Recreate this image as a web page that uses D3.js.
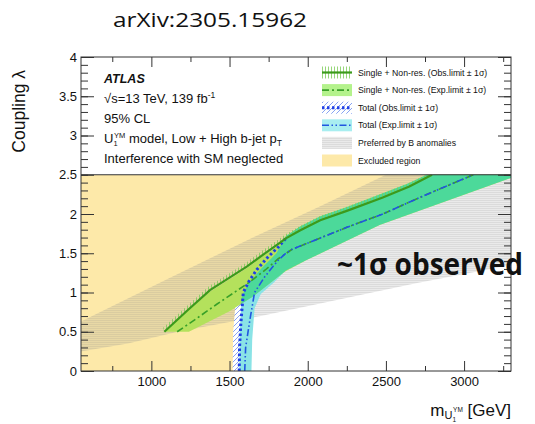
<!DOCTYPE html>
<html>
<head>
<meta charset="utf-8">
<title>U1 leptoquark coupling limits</title>
<script src="https://cdn.jsdelivr.net/npm/d3@7"></script>
<style>
  body { margin: 0; background: #fff; }
  svg text { font-family: "Liberation Sans", Arial, sans-serif; fill: #111; }
</style>
</head>
<body>
<script>
// values: [mass GeV, coupling lambda]
var massTicks = [1000, 1500, 2000, 2500, 3000];
var massMinor = [750, 1250, 1750, 2250, 2750, 3250];
var couplingTicks = [0, 0.5, 1, 1.5, 2, 2.5, 3, 3.5, 4];

var singleObs = [[1083,0.5],[1230,0.77],[1375,1.03],[1500,1.19],[1610,1.33],[1720,1.49],[1812,1.62],[1860,1.69],
  [1950,1.79],[2080,1.92],[2250,2.04],[2480,2.21],[2650,2.35],[2795,2.5]];
var singleObsHi = [[1075,0.55],[1222,0.82],[1368,1.08],[1495,1.24],[1605,1.38],[1715,1.54],[1808,1.67],[1855,1.74],
  [1945,1.84],[2075,1.97],[2245,2.09],[2475,2.26],[2640,2.39],[2760,2.5]];
var singleExp = [[1165,0.5],[1290,0.67],[1418,0.85],[1530,1.0],[1640,1.15],[1730,1.29],[1812,1.43],[1900,1.55],
  [2050,1.67],[2250,1.83],[2480,2.0],[2750,2.24],[3060,2.5]];
var singleExpHi = [[1083,0.5],[1230,0.76],[1375,1.01],[1500,1.17],[1610,1.31],[1720,1.47],[1812,1.6],[1860,1.72],
  [1950,1.84],[2080,1.97],[2250,2.09],[2475,2.26],[2640,2.39],[2760,2.5],[3300,2.6]];
var singleExpLo = [[1083,0.5],[1240,0.5],[1500,0.76],[1650,0.95],[1850,1.26],[1990,1.41],[2460,1.86],[3300,2.46]];

var totalObs = [[1562,0],[1564,0.3],[1572,0.6],[1588,1.0],[1620,1.13],[1674,1.29],[1740,1.44],[1812,1.58],[1860,1.69]];
var totalObsLo = [[1520,0],[1523,0.5],[1540,0.9],[1575,1.04],[1620,1.13]];
var totalExp = [[1597,0],[1603,0.3],[1630,0.65],[1660,1.0],[1725,1.2],[1810,1.41],[1860,1.5],[1900,1.55],
  [2050,1.67],[2250,1.83],[2480,2.0],[2750,2.24],[3060,2.5]];
var totalExpHi = [[1562,0],[1565,0.5],[1578,0.95],[1615,1.1],[1700,1.3],[1800,1.5],[1860,1.72],
  [1950,1.84],[2080,1.97],[2250,2.09],[2475,2.26],[2640,2.39],[2760,2.5],[3300,2.6]];
var totalExpLo = [[1640,0],[1645,0.4],[1660,0.8],[1700,0.98],[1780,1.12],[1860,1.28],[1990,1.41],[2460,1.86],[3300,2.46]];

var bAnomHi = [[550,0.63],[1100,1.17],[1680,1.73],[2080,2.1],[2500,2.5],[3300,3.2]];
var bAnomLo = [[550,0.25],[850,0.35],[1170,0.5],[1700,0.7],[2080,0.86],[2700,1.12],[3300,1.35]];

var legendLabels = ["Single + Non-res. (Obs.limit \u00b1 1\u03c3)", "Single + Non-res. (Exp.limit \u00b1 1\u03c3)",
  "Total (Obs.limit \u00b1 1\u03c3)", "Total (Exp.limit \u00b1 1\u03c3)", "Preferred by B anomalies", "Excluded region"];

var W = 535, H = 424;
var pLeft = 81, pRight = 511, pTop = 57, pBottom = 371;

var x = d3.scaleLinear().domain([550, 3300]).range([pLeft, pRight]);
var y = d3.scaleLinear().domain([0, 4]).range([pBottom, pTop]);

var svg = d3.select("body").append("svg").attr("width", W).attr("height", H);
svg.append("rect").attr("width", W).attr("height", H).attr("fill", "#fff");

var defs = svg.append("defs");
defs.append("clipPath").attr("id", "plotclip").append("rect")
  .attr("x", pLeft).attr("y", y(2.5)).attr("width", pRight - pLeft).attr("height", pBottom - y(2.5));

// hatch patterns
var pv = defs.append("pattern").attr("id", "vhatch").attr("patternUnits", "userSpaceOnUse")
  .attr("width", 3).attr("height", 6);
pv.append("line").attr("x1", 1.5).attr("x2", 1.5).attr("y1", 0).attr("y2", 6)
  .attr("stroke", "#7ccc58").attr("stroke-width", 0.8);
var pd = defs.append("pattern").attr("id", "dhatch").attr("patternUnits", "userSpaceOnUse")
  .attr("width", 5).attr("height", 5);
pd.append("rect").attr("width", 5).attr("height", 5).attr("fill", "#fff");
pd.append("path").attr("d", "M0,5 L5,0 M-1,1 L1,-1 M4,6 L6,4")
  .attr("stroke", "#6a8cf0").attr("stroke-width", 0.8);
var pg = defs.append("pattern").attr("id", "ghatch").attr("patternUnits", "userSpaceOnUse")
  .attr("width", 4).attr("height", 2);
pg.append("rect").attr("width", 4).attr("height", 2).attr("fill", "rgba(150,150,150,0.2)");
pg.append("line").attr("x1", 0).attr("x2", 4).attr("y1", 0.5).attr("y2", 0.5)
  .attr("stroke", "rgba(130,130,130,0.15)").attr("stroke-width", 1);

var line = d3.line().x(function(d) { return x(d[0]); }).y(function(d) { return y(d[1]); });
function band(hi, lo) { return line(hi.concat(lo.slice().reverse())) + "Z"; }

var plot = svg.append("g").attr("clip-path", "url(#plotclip)");

// excluded region: left of the total observed limit, then the single observed one
var excl = [[550,0]].concat(totalObs, singleObs.filter(function(d) { return d[1] > 1.69; }), [[550,2.5]]);
plot.append("path").attr("d", line(excl) + "Z").attr("fill", "#fde9a9");

// B anomalies band
plot.append("path").attr("d", band(bAnomHi, bAnomLo)).attr("fill", "url(#ghatch)");

// total observed +-1 sigma (hatched)
plot.append("path").attr("d", band(totalObsLo, totalObs.slice(0, 5))).attr("fill", "url(#dhatch)");

// expected bands
defs.append("clipPath").attr("id", "totclip").append("path").attr("d", band(totalExpHi, totalExpLo));
plot.append("path").attr("d", band(totalExpHi, totalExpLo)).attr("fill", "#8ae3e6");
plot.append("path").attr("d", band(singleExpHi, singleExpLo)).attr("fill", "#b4e15c");
plot.append("g").attr("clip-path", "url(#totclip)")
  .append("path").attr("d", band(singleExpHi, singleExpLo)).attr("fill", "#4cd99a");

// single observed +-1 sigma (vertical hatch)
plot.append("path").attr("d", band(singleObsHi, singleObs)).attr("fill", "url(#vhatch)");

// limit lines
plot.append("path").attr("d", line(singleExp)).attr("fill", "none")
  .attr("stroke", "#38a028").attr("stroke-width", 1.6).attr("stroke-dasharray", "7,3,2,3");
plot.append("path").attr("d", line(totalExp)).attr("fill", "none")
  .attr("stroke", "#2156e0").attr("stroke-width", 1.6).attr("stroke-dasharray", "7,2.5,1.5,2.5,1.5,2.5");
plot.append("path").attr("d", line(totalObs)).attr("fill", "none")
  .attr("stroke", "#1f3fe6").attr("stroke-width", 3).attr("stroke-dasharray", "2.5,2.5");
plot.append("path").attr("d", line(singleObs)).attr("fill", "none")
  .attr("stroke", "#3c9a1c").attr("stroke-width", 2.2);

// axes
function styleAxis(g) {
  g.select(".domain").remove();
  g.selectAll("line").attr("stroke", "#333");
  g.selectAll("text").style("font-size", "13px").attr("fill", "#111");
}
var minorMass = massMinor.filter(function(d) { return d < 3300; });
svg.append("g").attr("transform", "translate(0," + pBottom + ")")
  .call(d3.axisBottom(x).tickValues(massTicks).tickSize(-10).tickPadding(6).tickFormat(d3.format("d")))
  .call(styleAxis);
svg.append("g").attr("transform", "translate(0," + pBottom + ")")
  .call(d3.axisBottom(x).tickValues(minorMass).tickSize(-5).tickFormat(""))
  .call(styleAxis);
svg.append("g").attr("transform", "translate(0," + pTop + ")")
  .call(d3.axisTop(x).tickValues(massTicks).tickSize(-10).tickFormat(""))
  .call(styleAxis);
svg.append("g").attr("transform", "translate(0," + pTop + ")")
  .call(d3.axisTop(x).tickValues(minorMass).tickSize(-5).tickFormat(""))
  .call(styleAxis);

var yMinor = d3.range(0, 4.001, 0.1);
svg.append("g").attr("transform", "translate(" + pLeft + ",0)")
  .call(d3.axisLeft(y).tickValues(couplingTicks).tickSize(-13).tickPadding(4).tickFormat(function(d) { return d; }))
  .call(styleAxis);
svg.append("g").attr("transform", "translate(" + pLeft + ",0)")
  .call(d3.axisLeft(y).tickValues(yMinor).tickSize(-7).tickFormat(""))
  .call(styleAxis);
svg.append("g").attr("transform", "translate(" + pRight + ",0)")
  .call(d3.axisRight(y).tickValues(couplingTicks).tickSize(-13).tickFormat(""))
  .call(styleAxis);
svg.append("g").attr("transform", "translate(" + pRight + ",0)")
  .call(d3.axisRight(y).tickValues(yMinor).tickSize(-7).tickFormat(""))
  .call(styleAxis);

// frame and the 2.5 line
svg.append("rect").attr("x", pLeft).attr("y", pTop).attr("width", pRight - pLeft).attr("height", pBottom - pTop)
  .attr("fill", "none").attr("stroke", "#333").attr("stroke-width", 1);
svg.append("line").attr("x1", pLeft).attr("x2", pRight).attr("y1", y(2.5)).attr("y2", y(2.5))
  .attr("stroke", "#333").attr("stroke-width", 1);

// axis titles
svg.append("text").attr("transform", "translate(25,70) rotate(-90)")
  .attr("text-anchor", "end").style("font-size", "17.5px").text("Coupling \u03bb");

var xt = svg.append("text").attr("x", pRight).attr("y", 416).attr("text-anchor", "end").style("font-size", "17px");
xt.append("tspan").text("m");
xt.append("tspan").attr("dy", 3).style("font-size", "11px").text("U");
xt.append("tspan").attr("dy", 2.5).style("font-size", "6.5px").text("1");
xt.append("tspan").attr("dy", -9.5).attr("dx", -3).style("font-size", "6.5px").text("YM");
xt.append("tspan").attr("dy", 4).text(" [GeV]");

// ATLAS label block
var tx = 104;
svg.append("text").attr("x", tx).attr("y", 83).style("font-size", "12.5px")
  .style("font-weight", "bold").style("font-style", "italic").text("ATLAS");
var t1 = svg.append("text").attr("x", tx).attr("y", 103).style("font-size", "13px");
t1.append("tspan").text("\u221as=13 TeV, 139 fb");
t1.append("tspan").attr("dy", -5).style("font-size", "8.5px").text("-1");
svg.append("text").attr("x", tx).attr("y", 123).style("font-size", "13px").text("95% CL");
var t3 = svg.append("text").attr("x", tx).attr("y", 143).style("font-size", "13px");
t3.append("tspan").text("U");
t3.append("tspan").attr("dy", 3).style("font-size", "7.5px").text("1");
t3.append("tspan").attr("dy", -8).attr("dx", -3.5).style("font-size", "7.5px").text("YM");
t3.append("tspan").attr("dy", 5).text(" model, Low + High b-jet p");
t3.append("tspan").attr("dy", 3).style("font-size", "8.5px").text("T");
svg.append("text").attr("x", tx).attr("y", 163).style("font-size", "13px").text("Interference with SM neglected");

// legend
var ly0 = 72.5, lstep = 17.6, lx = 322, lw = 30, lh = 12;
var leg = svg.append("g");
legendLabels.forEach(function(lab, i) {
  var cy = ly0 + i * lstep;
  var g = leg.append("g");
  if (i === 0) {
    g.append("rect").attr("x", lx).attr("y", cy - lh / 2).attr("width", lw).attr("height", lh).attr("fill", "url(#vhatch)");
    g.append("line").attr("x1", lx).attr("x2", lx + lw).attr("y1", cy).attr("y2", cy).attr("stroke", "#3c9a1c").attr("stroke-width", 2.2);
  } else if (i === 1) {
    g.append("rect").attr("x", lx).attr("y", cy - lh / 2).attr("width", lw).attr("height", lh).attr("fill", "#b4f28c");
    g.append("line").attr("x1", lx).attr("x2", lx + lw).attr("y1", cy).attr("y2", cy).attr("stroke", "#38a028")
      .attr("stroke-width", 1.6).attr("stroke-dasharray", "7,3,2,3");
  } else if (i === 2) {
    g.append("rect").attr("x", lx).attr("y", cy - lh / 2).attr("width", lw).attr("height", lh).attr("fill", "url(#dhatch)");
    g.append("line").attr("x1", lx).attr("x2", lx + lw).attr("y1", cy).attr("y2", cy).attr("stroke", "#1f3fe6")
      .attr("stroke-width", 3).attr("stroke-dasharray", "2.5,2.5");
  } else if (i === 3) {
    g.append("rect").attr("x", lx).attr("y", cy - lh / 2).attr("width", lw).attr("height", lh).attr("fill", "#a8eef0");
    g.append("line").attr("x1", lx).attr("x2", lx + lw).attr("y1", cy).attr("y2", cy).attr("stroke", "#2156e0")
      .attr("stroke-width", 1.6).attr("stroke-dasharray", "7,2.5,1.5,2.5,1.5,2.5");
  } else if (i === 4) {
    g.append("rect").attr("x", lx).attr("y", cy - lh / 2).attr("width", lw).attr("height", lh).attr("fill", "url(#ghatch)");
  } else {
    g.append("rect").attr("x", lx).attr("y", cy - lh / 2).attr("width", lw).attr("height", lh).attr("fill", "#fde9a9");
  }
  g.append("text").attr("x", lx + lw + 6).attr("y", cy + 3).style("font-size", "8.7px").attr("fill", "#222").text(lab);
});

// annotations
svg.append("text").attr("x", 113).attr("y", 27).style("font-family", "'Open Sans', 'Noto Sans', sans-serif")
  .style("font-size", "20px").attr("fill", "#222")
  .attr("textLength", 194).attr("lengthAdjust", "spacingAndGlyphs").text("arXiv:2305.15962");
svg.append("text").attr("x", 337).attr("y", 275).style("font-family", "'Open Sans', 'Noto Sans', sans-serif")
  .style("font-size", "30px").style("font-weight", "bold").attr("fill", "#000")
  .attr("textLength", 186).attr("lengthAdjust", "spacingAndGlyphs").text("~1\u03c3 observed");
</script>
</body>
</html>
